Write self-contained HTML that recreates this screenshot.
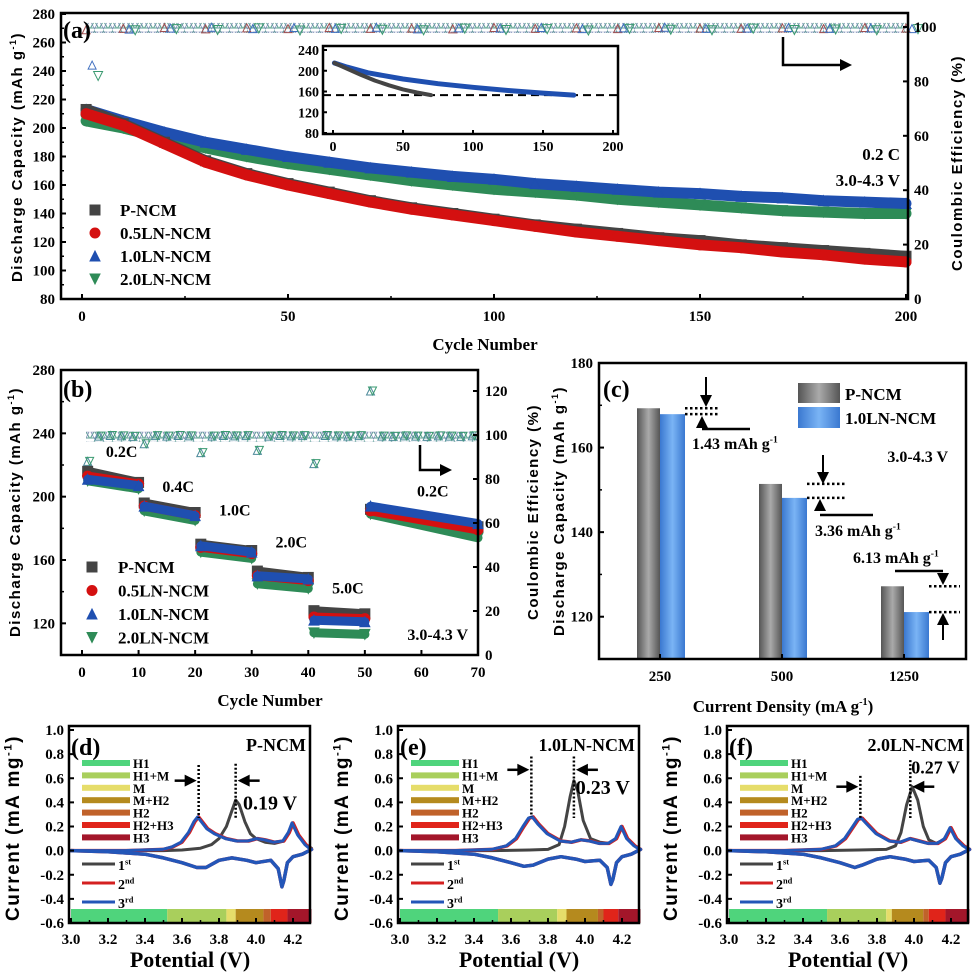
<!DOCTYPE html>
<html><head><meta charset="utf-8">
<style>
html,body{margin:0;padding:0;background:#fff;}
svg{display:block;font-family:"Liberation Serif",serif;font-weight:bold;}
</style></head>
<body>
<svg id="chart" width="979" height="973" viewBox="0 0 979 973" xmlns="http://www.w3.org/2000/svg">
<defs>
<pattern id="triPat" width="9" height="10" patternUnits="userSpaceOnUse"><polygon points="4.5,1 0.5,8 8.5,8" fill="none" stroke="#5a9f90" stroke-width="1"/><polygon points="4.5,9 1,2 8,2" fill="none" stroke="#7f8fb8" stroke-width="0.8"/></pattern>
<linearGradient id="gGray" x1="0" x2="1"><stop offset="0" stop-color="#555"/><stop offset="0.5" stop-color="#aaa"/><stop offset="1" stop-color="#555"/></linearGradient>
<linearGradient id="gBlue" x1="0" x2="1"><stop offset="0" stop-color="#3a78d0"/><stop offset="0.5" stop-color="#7ab4f5"/><stop offset="1" stop-color="#3a78d0"/></linearGradient>
</defs>
</svg>
<script>
// ---------- Panel (a) data ----------
const aCycles = [1,10,20,30,40,50,60,70,80,90,100,110,120,130,140,150,160,170,180,190,200];
const aP = [213,203,190,177,168,161,155,149,144,140,136,132,129,126,123,121,118,116,114,112,110];
const aR = [210,202,189,176,167,160,154,148,143,139,135,131,127,124,121,118,116,113,111,108,106];
const aB = [213,205,197,190,185,180,176,172,169,166,164,161,159,157,155,154,152,151,149,148,147];
const aG = [205,200,193,186,180,175,171,167,163,160,157,155,153,150,148,146,144,142,141,140,140];
const aCE_P = [99,99.5,99.8,99.3,99.7,99.4,99.8,99.5,99.6,99.3,99.8,99.5,99.7,99.4,99.8,99.6,99.5,99.7,99.4,99.8,99.6];
const aCE_B = [86,99.2,99.6,99.9,99.4,99.8,99.5,99.9,99.3,99.7,99.6,99.8,99.4,99.7,99.9,99.5,99.6,99.8,99.5,99.7,99.4];
const aCE_G = [82,98.8,99.2,98.9,99.5,98.7,99.3,99.0,98.8,99.4,98.9,99.2,98.7,99.3,99.0,98.8,99.4,98.9,99.1,98.8,99.2];
const aYTicks = [80,100,120,140,160,180,200,220,240,260,280];
const aXTicks = [0,50,100,150,200];
const aRTicks = [0,20,40,60,80,100];
// inset
const inPCyc = [1,10,20,30,40,50,60,70];
const inPVal = [215,204,192,181,172,164,158,153];
const inBCyc = [1,10,25,50,75,100,125,150,172];
const inBVal = [215,207,196,184,175,168,162,157,153];
const inLimit = [153];
// ---------- Panel (b) data ----------
const bCyc = [1,10,11,20,21,30,31,40,41,50,51,70];
const bP = [216,209,196,190,170,166,153,149,128,126,192,181];
const bR = [213,208,194,188,168,164,150,147,124,123,191,179];
const bB = [211,207,194,188,169,165,150,148,122,121,194,183];
const bG = [210,205,191,185,165,161,145,142,114,113,189,174];
const bCECyc = [1,3,5,7,9,11,13,15,17,19,21,23,25,27,29,31,33,35,37,39,41,43,45,47,49,51,53,55,57,59,61,63,65,67,69];
const bCE = [88,99.5,99.8,99.6,99.4,96,99.7,99.5,99.8,99.6,92,99.5,99.8,99.6,99.7,93,99.5,99.8,99.6,99.7,87,99.8,99.6,99.5,99.7,120,99.5,99.4,99.6,99.5,99.4,99.6,99.5,99.4,99.6];
const bRateLabels = ["0.2C","0.4C","1.0C","2.0C","5.0C","0.2C"];
const bRateX = [7,17,27,37,47,62];
const bRateY = [225,203,188,168,139,200];
// ---------- Panel (c) data ----------
const cCats = ["250","500","1250"];
const cP = [169.3,151.4,127.2];
const cB = [167.9,148.1,121.1];
const cDiff = ["1.43","3.36","6.13"];
// ---------- Panels (d)(e)(f) CV data ----------
const dV1=[3.0,3.3,3.5,3.6,3.7,3.76,3.8,3.84,3.87,3.89,3.91,3.94,3.97,4.0,4.05,4.1,4.15,4.18,4.2,4.23,4.27,4.3];
const dI1=[0,0,0,0.005,0.02,0.05,0.1,0.2,0.33,0.42,0.38,0.24,0.14,0.1,0.07,0.06,0.08,0.15,0.22,0.12,0.05,0.02];
const dV2=[3.0,3.3,3.5,3.55,3.6,3.64,3.67,3.69,3.71,3.74,3.78,3.84,3.9,3.96,4.01,4.05,4.1,4.15,4.18,4.2,4.23,4.27,4.3];
const dI2=[0,0,0.01,0.03,0.07,0.15,0.24,0.28,0.24,0.18,0.14,0.1,0.08,0.08,0.1,0.09,0.07,0.08,0.15,0.23,0.13,0.05,0.01];
const dVc=[4.3,4.25,4.2,4.17,4.15,4.14,4.12,4.08,4.0,3.95,3.87,3.8,3.73,3.68,3.6,3.5,3.4,3.2,3.0];
const dIc=[0.01,-0.03,-0.05,-0.1,-0.25,-0.3,-0.15,-0.08,-0.1,-0.08,-0.06,-0.08,-0.14,-0.14,-0.1,-0.06,-0.03,-0.01,0];
const eV1=[3.0,3.3,3.5,3.7,3.8,3.86,3.89,3.92,3.94,3.96,3.99,4.03,4.08,4.13,4.17,4.2,4.23,4.27,4.3];
const eI1=[0,0,0,0.005,0.01,0.05,0.2,0.45,0.58,0.5,0.25,0.1,0.07,0.06,0.1,0.2,0.1,0.04,0.01];
const eV2=[3.0,3.3,3.5,3.58,3.63,3.67,3.7,3.72,3.75,3.8,3.87,3.93,3.98,4.03,4.08,4.13,4.17,4.2,4.23,4.27,4.3];
const eI2=[0,0,0.01,0.04,0.1,0.2,0.27,0.28,0.22,0.14,0.08,0.07,0.09,0.08,0.06,0.06,0.1,0.2,0.1,0.04,0.01];
const eVc=[4.3,4.25,4.2,4.17,4.15,4.14,4.12,4.08,4.0,3.95,3.87,3.8,3.72,3.67,3.6,3.5,3.4,3.2,3.0];
const eIc=[0.01,-0.03,-0.05,-0.1,-0.24,-0.28,-0.14,-0.08,-0.09,-0.07,-0.05,-0.07,-0.12,-0.13,-0.1,-0.06,-0.03,-0.01,0];
const fV1=[3.0,3.3,3.5,3.7,3.85,3.9,3.93,3.96,3.99,4.02,4.05,4.08,4.12,4.16,4.2,4.23,4.27,4.3];
const fI1=[0,0,0,0.005,0.01,0.04,0.15,0.38,0.53,0.42,0.2,0.09,0.06,0.09,0.19,0.1,0.04,0.01];
const fV2=[3.0,3.3,3.5,3.58,3.63,3.67,3.7,3.72,3.75,3.8,3.87,3.93,3.98,4.03,4.08,4.13,4.17,4.2,4.23,4.27,4.3];
const fI2=[0,0,0.01,0.04,0.1,0.19,0.26,0.27,0.22,0.14,0.08,0.07,0.1,0.08,0.06,0.06,0.1,0.19,0.1,0.04,0.01];
const fVc=[4.3,4.25,4.2,4.17,4.15,4.14,4.12,4.08,4.0,3.95,3.87,3.8,3.72,3.68,3.6,3.5,3.4,3.2,3.0];
const fIc=[0.01,-0.03,-0.05,-0.1,-0.23,-0.27,-0.14,-0.08,-0.09,-0.07,-0.05,-0.07,-0.12,-0.14,-0.1,-0.06,-0.03,-0.01,0];
const dPhase=[3.0,3.52,3.84,3.89,4.04,4.08,4.17,4.3];
const ePhase=[3.0,3.53,3.85,3.9,4.07,4.1,4.18,4.3];
const fPhase=[3.0,3.53,3.85,3.88,4.05,4.08,4.17,4.3];
const phaseNames=["H1","H1+M","M","M+H2","H2","H2+H3","H3"];
const cvYTicks=[-0.6,-0.4,-0.2,0.0,0.2,0.4,0.6,0.8,1.0];
const cvXTicks=[3.0,3.2,3.4,3.6,3.8,4.0,4.2];

const NS="http://www.w3.org/2000/svg";
const svg=document.getElementById('chart');
const TK=15;
const phaseColors=["#4fd47c","#a9cf5c","#e6dd6a","#b58a1e","#c0622a","#e0241a","#a3162a"];
function lin(d0,d1,r0,r1){return v=>r0+(v-d0)*(r1-r0)/(d1-d0);}
function mk(tag,attrs,name,parent){
  const el=document.createElementNS(NS,tag);
  for(const k in attrs) el.setAttribute(k,attrs[k]);
  
  
  (parent||svg).appendChild(el);
  return el;
}
function txt(x,y,s,size,anchor,name,sup,extra){
  const a=Object.assign({x:x,y:y,'font-size':size,'text-anchor':anchor||'start',fill:'#000'},extra||{});
  const t=mk('text',a,name);
  t.appendChild(document.createTextNode(s));
  if(sup){
    const sp=document.createElementNS(NS,'tspan');
    sp.setAttribute('dy',-size*0.4);
    sp.setAttribute('font-size',size*0.6);
    sp.textContent=sup;
    t.appendChild(sp);
    if(extra&&extra.close){const c=document.createElementNS(NS,'tspan');c.setAttribute('dy',size*0.4);c.textContent=')';t.appendChild(c);}
  }
  return t;
}
function rtitle(x,y,s,size,len,name,sup){
  const t=mk('text',{x:x,y:y,'font-size':size,'text-anchor':'middle',transform:'rotate(-90 '+x+' '+y+')','font-family':'"Liberation Sans",sans-serif','letter-spacing':'1.5'},name);
  t.appendChild(document.createTextNode(s));
  if(sup){
    const sp=document.createElementNS(NS,'tspan');sp.setAttribute('dy',-size*0.4);sp.setAttribute('font-size',size*0.6);sp.textContent=sup;t.appendChild(sp);
    const c=document.createElementNS(NS,'tspan');c.setAttribute('dy',size*0.4);c.textContent=')';t.appendChild(c);
  }
  return t;
}
function frame(x0,y0,x1,y1,name){mk('rect',{x:x0,y:y0,width:x1-x0,height:y1-y0,fill:'none',stroke:'#000','stroke-width':2.5},name);}
function line(x1,y1,x2,y2,w,name,extra){return mk('line',Object.assign({x1:x1,y1:y1,x2:x2,y2:y2,stroke:'#000','stroke-width':w},extra||{}),name);}
function marker(shape,x,y,s,fill,stroke,name){
  if(shape==='sq') return mk('rect',{x:x-s/2,y:y-s/2,width:s,height:s,fill:fill,stroke:stroke,'stroke-width':1},name);
  if(shape==='ci') return mk('circle',{cx:x,cy:y,r:s/2,fill:fill,stroke:stroke,'stroke-width':1},name);
  if(shape==='up') return mk('polygon',{points:`${x},${y-s/2} ${x-s/2},${y+s/2} ${x+s/2},${y+s/2}`,fill:fill,stroke:stroke,'stroke-width':1},name);
  return mk('polygon',{points:`${x},${y+s/2} ${x-s/2},${y-s/2} ${x+s/2},${y-s/2}`,fill:fill,stroke:stroke,'stroke-width':1},name);
}
function arrowHead(x,y,dir,name){
  const s=6;let p;
  if(dir==='r')p=`${x},${y} ${x-12},${y-s} ${x-12},${y+s}`;
  if(dir==='l')p=`${x},${y} ${x+12},${y-s} ${x+12},${y+s}`;
  if(dir==='d')p=`${x},${y} ${x-s},${y-12} ${x+s},${y-12}`;
  if(dir==='u')p=`${x},${y} ${x-s},${y+12} ${x+s},${y+12}`;
  mk('polygon',{points:p,fill:'#000'},name);
}
function poly(xs,ys,fx,fy,color,w,name,extra){
  const pts=xs.map((v,i)=>fx(v).toFixed(1)+','+fy(ys[i]).toFixed(1)).join(' ');
  return mk('polyline',Object.assign({points:pts,fill:'none',stroke:color,'stroke-width':w,'stroke-linejoin':'round','stroke-linecap':'round'},extra||{}),name);
}

// ================= Panel (a) =================
const axA=lin(0,200,82,906), ayA=lin(80,280,299,14), ayAr=lin(0,100,299,27);
mk('rect',{x:86,y:ayAr(101.5),width:820,height:10,fill:'url(#triPat)'},'ce-band');
aCycles.forEach((c,i)=>{marker('up',axA(c),ayAr(aCE_P[i]),8,'none','#a05050','ce-marker-p-ncm');});
aCycles.forEach((c,i)=>{marker('up',axA(c)+6,ayAr(aCE_B[i]),8,'none','#4070c0','ce-marker-1.0ln-ncm');});
aCycles.forEach((c,i)=>{marker('dn',axA(c)+12,ayAr(aCE_G[i]),9,'none','#3a9a70','ce-marker-2.0ln-ncm');});
[[aG,'#2e8b57','dn','2.0ln-ncm'],[aB,'#1f4fb0','up','1.0ln-ncm'],[aP,'#444','sq','p-ncm'],[aR,'#d41010','ci','0.5ln-ncm']].forEach(s=>{
  poly(aCycles,s[0],axA,ayA,s[1],11,'capacity-line-'+s[3]);
  aCycles.forEach((c,i)=>marker(s[2],axA(c),ayA(s[0][i]),10,s[1],s[1],'capacity-marker-'+s[3]));
});
frame(61,13,908,299,'panel-a-frame');
aYTicks.forEach(v=>{line(61,ayA(v),66,ayA(v),2,'y-tick-a');txt(55,ayA(v)+5,String(v),TK,'end','y-tick-label-a');});
aYTicks.slice(0,-1).forEach(v=>line(61,ayA(v+10),64,ayA(v+10),1.5,'y-minor-tick-a'));
aXTicks.forEach(v=>{line(axA(v),299,axA(v),294,2,'x-tick-a');txt(axA(v),321,String(v),TK,'middle','x-tick-label-a');});
[25,75,125,175].forEach(v=>line(axA(v),299,axA(v),296,1.5,'x-minor-tick-a'));
aRTicks.forEach(v=>{line(908,ayAr(v),903,ayAr(v),2,'right-tick-a');txt(914,ayAr(v)+5,String(v),TK,'start','right-tick-label-a');});
txt(63,38,'(a)',24,'start','panel-label-a');
rtitle(22,157,'Discharge Capacity (mAh g',15,0,'y-axis-title-a','-1');
rtitle(962,163,'Coulombic Efficiency (%)',15,0,'right-axis-title-a');
txt(485,350,'Cycle Number',17,'middle','x-axis-title-a');
txt(900,160,'0.2 C',17,'end','rate-label-a');
txt(900,186,'3.0-4.3 V',17,'end','voltage-label-a');
mk('polyline',{points:'783,37 783,65 840,65',fill:'none',stroke:'#000','stroke-width':2.5},'ce-axis-arrow-a');
arrowHead(852,65,'r','ce-arrow-head-a');
const legA=[['sq','#444','P-NCM'],['ci','#d41010','0.5LN-NCM'],['up','#1f4fb0','1.0LN-NCM'],['dn','#2e8b57','2.0LN-NCM']];
legA.forEach((l,i)=>{const y=210+i*23;marker(l[0],95,y,10,l[1],l[1],'legend-marker-a');txt(120,y+6,l[2],17,'start','legend-entry-a');});
// inset
mk('rect',{x:323,y:46,width:295,height:88,fill:'#fff'},'inset-bg');
const ixI=lin(0,200,333,613), iyI=lin(80,240,133,50);
line(323,iyI(inLimit[0]),618,iyI(inLimit[0]),2,'inset-limit-line',{'stroke-dasharray':'8,5'});
poly(inBCyc,inBVal,ixI,iyI,'#1f4fb0',5,'inset-line-1.0ln-ncm');
poly(inPCyc,inPVal,ixI,iyI,'#444',4,'inset-line-p-ncm');
frame(323,46,618,134,'inset-frame');
[80,120,160,200,240].forEach(v=>{line(323,iyI(v),327,iyI(v),2,'inset-y-tick');txt(319,iyI(v)+5,String(v),14,'end','inset-y-tick-label');});
[0,50,100,150,200].forEach(v=>{line(ixI(v),134,ixI(v),130,2,'inset-x-tick');txt(ixI(v),151,String(v),14,'middle','inset-x-tick-label');});

// ================= Panel (b) =================
const axB=lin(0,70,82,478), ayB=lin(100,280,655,370), ayBr=lin(0,120,655,391);
mk('rect',{x:86,y:ayBr(101.5),width:390,height:10,fill:'url(#triPat)'},'ce-band-b');
bCECyc.forEach((c,i)=>{marker('up',axB(c),ayBr(bCE[i]),8,'none','#4c8a9a','ce-marker-b');marker('dn',axB(c)+2,ayBr(bCE[i]),8,'none','#3a9a70','ce-marker-b2');});
[[bG,'#2e8b57','dn','2.0ln-ncm'],[bP,'#444','sq','p-ncm'],[bR,'#d41010','ci','0.5ln-ncm'],[bB,'#1f4fb0','up','1.0ln-ncm']].forEach(s=>{
  for(let k=0;k<bCyc.length;k+=2){
    const xs=[bCyc[k],bCyc[k+1]], ys=[s[0][k],s[0][k+1]];
    poly(xs,ys,axB,ayB,s[1],9,'rate-line-'+s[3]);
    marker(s[2],axB(xs[0]),ayB(ys[0]),10,s[1],s[1],'rate-marker-'+s[3]);
    marker(s[2],axB(xs[1]),ayB(ys[1]),10,s[1],s[1],'rate-marker-'+s[3]);
  }
});
frame(61,370,478,655,'panel-b-frame');
[120,160,200,240,280].forEach(v=>{line(61,ayB(v),66,ayB(v),2,'y-tick-b');txt(55,ayB(v)+5,String(v),TK,'end','y-tick-label-b');});
[100,140,180,220,260].forEach(v=>line(61,ayB(v),64,ayB(v),1.5,'y-minor-tick-b'));
[0,10,20,30,40,50,60,70].forEach(v=>{line(axB(v),655,axB(v),650,2,'x-tick-b');txt(axB(v),677,String(v),TK,'middle','x-tick-label-b');});
[0,20,40,60,80,100,120].forEach(v=>{line(478,ayBr(v),473,ayBr(v),2,'right-tick-b');txt(485,ayBr(v)+5,String(v),TK,'start','right-tick-label-b');});
txt(63,397,'(b)',24,'start','panel-label-b');
rtitle(20,512,'Discharge Capacity (mAh g',15,0,'y-axis-title-b','-1');
rtitle(538,512,'Coulombic Efficiency (%)',15,0,'right-axis-title-b');
txt(270,706,'Cycle Number',17,'middle','x-axis-title-b');
bRateLabels.forEach((l,i)=>txt(axB(bRateX[i]),ayB(bRateY[i]),l,16,'middle','rate-step-label'));
txt(468,640,'3.0-4.3 V',16,'end','voltage-label-b');
mk('polyline',{points:'420,445 420,470 441,470',fill:'none',stroke:'#000','stroke-width':2.5},'ce-axis-arrow-b');
arrowHead(452,470,'r','ce-arrow-head-b');
legA.forEach((l,i)=>{const y=567+i*23.5;marker(l[0],92,y,10,l[1],l[1],'legend-marker-b');txt(118,y+6,l[2],17,'start','legend-entry-b');});

// ================= Panel (c) =================
const ayC=lin(110,180,659,363);
const cCenters=[660,782,904];
cCats.forEach((c,i)=>{
  const cx=cCenters[i];
  mk('rect',{x:cx-23,y:ayC(cP[i]),width:23,height:659-ayC(cP[i]),fill:'url(#gGray)'},'bar-p-ncm-'+c);
  mk('rect',{x:cx,y:ayC(cB[i]),width:25,height:659-ayC(cB[i]),fill:'url(#gBlue)'},'bar-1.0ln-ncm-'+c);
  txt(cx,681,c,TK,'middle','x-tick-label-c');
  line(cx,659,cx,654,2,'x-tick-c');
});
frame(599,363,966,659,'panel-c-frame');
[120,140,160,180].forEach(v=>{line(599,ayC(v),604,ayC(v),2,'y-tick-c');txt(593,ayC(v)+5,String(v),TK,'end','y-tick-label-c');});
[130,150,170].forEach(v=>line(599,ayC(v),602,ayC(v),1.5,'y-minor-tick-c'));
txt(603,397,'(c)',24,'start','panel-label-c');
rtitle(564,511,'Discharge Capacity (mAh g',15,0,'y-axis-title-c','-1');
txt(783,712,'Current Density (mA g',17,'middle','x-axis-title-c','-1',{close:true});
mk('rect',{x:798,y:383,width:42,height:20,fill:'url(#gGray)'},'legend-swatch-p-ncm');
mk('rect',{x:798,y:407,width:42,height:21,fill:'url(#gBlue)'},'legend-swatch-1.0ln-ncm');
txt(845,400,'P-NCM',17,'start','legend-entry-c');
txt(845,424,'1.0LN-NCM',17,'start','legend-entry-c');
txt(948,462,'3.0-4.3 V',16,'end','voltage-label-c');
const dot={'stroke-dasharray':'2.5,2.5'};
line(685,ayC(cP[0]),718,ayC(cP[0]),2.5,'diff-dotted-250',dot);
line(685,ayC(cB[0]),718,ayC(cB[0]),2.5,'diff-dotted-250',dot);
line(706,377,706,398,2,'diff-arrow-250');arrowHead(706,407,'d','diff-arrow-250-head');
line(702,429,750,429,2.5,'diff-leader-250');arrowHead(702,416,'u','diff-arrow-250b-head');
txt(692,449,'1.43 mAh g',16,'start','diff-label-250','-1');
line(807,ayC(cP[1]),845,ayC(cP[1]),2.5,'diff-dotted-500',dot);
line(807,ayC(cB[1]),845,ayC(cB[1]),2.5,'diff-dotted-500',dot);
line(823,455,823,474,2,'diff-arrow-500');arrowHead(823,484,'d','diff-arrow-500-head');
line(820,515,873,515,2.5,'diff-leader-500');arrowHead(820,499,'u','diff-arrow-500b-head');
txt(815,536,'3.36 mAh g',16,'start','diff-label-500','-1');
line(929,ayC(cP[2]),960,ayC(cP[2]),2.5,'diff-dotted-1250',dot);
line(929,ayC(cB[2]),960,ayC(cB[2]),2.5,'diff-dotted-1250',dot);
line(895,571,943,571,2.5,'diff-leader-1250');arrowHead(943,585,'d','diff-arrow-1250-head');
line(943,640,943,625,2,'diff-arrow-1250b');arrowHead(943,613,'u','diff-arrow-1250b-head');
txt(853,563,'6.13 mAh g',16,'start','diff-label-1250','-1');

// ================= Panels (d)(e)(f) =================
function cvPanel(opt){
  const fx=lin(3.0,4.2,opt.x0+2,opt.x0+224), fy=lin(-0.6,1.0,923,730);
  const b=opt.phase;
  for(let i=0;i<b.length-1;i++) mk('rect',{x:fx(b[i]),y:909,width:fx(b[i+1])-fx(b[i]),height:14,fill:phaseColors[i]},'phase-bar-'+phaseNames[i]);
  phaseNames.forEach((n,i)=>{const y=763+i*12.4;mk('rect',{x:opt.x0+13,y:y-3,width:48,height:6,fill:phaseColors[i]},'phase-legend-swatch');txt(opt.x0+64,y+5,n,13,'start','phase-legend-label');});
  poly(opt.v1,opt.i1,fx,fy,'#444',3,'cv-1st-anodic');
  poly(opt.v2,opt.i2,fx,fy,'#d42020',3.5,'cv-2nd-anodic');
  poly(opt.vc,opt.ic,fx,fy,'#d42020',3.5,'cv-2nd-cathodic');
  poly(opt.v2,opt.i2,fx,fy,'#2356b8',3,'cv-3rd-anodic',{transform:'translate(-1,0)'});
  poly(opt.vc,opt.ic,fx,fy,'#2356b8',3.5,'cv-3rd-cathodic');
  frame(opt.x0,726,opt.x0+241,923,'cv-frame');
  cvYTicks.forEach(v=>{line(opt.x0,fy(v),opt.x0+5,fy(v),2,'cv-y-tick');txt(opt.x0-5,fy(v)+5,v.toFixed(1),TK,'end','cv-y-tick-label');});
  cvXTicks.forEach(v=>{line(fx(v),923,fx(v),918,2,'cv-x-tick');txt(fx(v),944,v.toFixed(1),TK,'middle','cv-x-tick-label');});
  [3.1,3.3,3.5,3.7,3.9,4.1].forEach(v=>line(fx(v),923,fx(v),920,1.5,'cv-x-minor-tick'));
  txt(opt.x0+2,755,opt.label,24,'start','panel-label');
  txt(opt.x0+237,751,opt.name,18,'end','sample-name');
  rtitle(opt.x0-50,828,'Current (mA mg',19,0,'cv-y-axis-title','-1');
  txt(opt.x0+121,967,'Potential (V)',22,'middle','cv-x-axis-title');
  [['#444','1','st'],['#d42020','2','nd'],['#2356b8','3','rd']].forEach((l,i)=>{const y=864+i*19;line(opt.x0+13,y,opt.x0+46,y,3,'cv-legend-line',{stroke:l[0]});txt(opt.x0+49,y+6,l[1],14,'start','cv-legend-label',l[2]);});
  const m={'stroke-dasharray':'2,2'};
  line(fx(opt.p1),fy(opt.top1),fx(opt.p1),fy(opt.bot1),2.5,'peak-dotted-line',m);
  line(fx(opt.p2),fy(opt.top2),fx(opt.p2),fy(opt.bot2),2.5,'peak-dotted-line',m);
  const ay=fy(opt.arY);
  line(fx(opt.p1)-24,ay,fx(opt.p1)-10,ay,2.5,'separation-arrow');arrowHead(fx(opt.p1)-2,ay,'r','separation-arrow-head');
  line(fx(opt.p2)+24,ay,fx(opt.p2)+10,ay,2.5,'separation-arrow');arrowHead(fx(opt.p2)+2,ay,'l','separation-arrow-head');
  txt(fx(opt.tx),fy(opt.ty),opt.sep,opt.ts,'start','peak-separation-label');
}
cvPanel({x0:69,label:'(d)',name:'P-NCM',phase:dPhase,v1:dV1,i1:dI1,v2:dV2,i2:dI2,vc:dVc,ic:dIc,p1:3.69,p2:3.89,top1:0.71,bot1:0.27,top2:0.72,bot2:0.26,arY:0.58,tx:3.93,ty:0.34,sep:'0.19 V',ts:20});
cvPanel({x0:398,label:'(e)',name:'1.0LN-NCM',phase:ePhase,v1:eV1,i1:eI1,v2:eV2,i2:eI2,vc:eVc,ic:eIc,p1:3.71,p2:3.94,top1:0.78,bot1:0.28,top2:0.78,bot2:0.27,arY:0.67,tx:3.95,ty:0.47,sep:'0.23 V',ts:20});
cvPanel({x0:727,label:'(f)',name:'2.0LN-NCM',phase:fPhase,v1:fV1,i1:fI1,v2:fV2,i2:fI2,vc:fVc,ic:fIc,p1:3.71,p2:3.98,top1:0.62,bot1:0.27,top2:0.75,bot2:0.27,arY:0.53,tx:3.985,ty:0.64,sep:'0.27 V',ts:18});
</script>
</body></html>
